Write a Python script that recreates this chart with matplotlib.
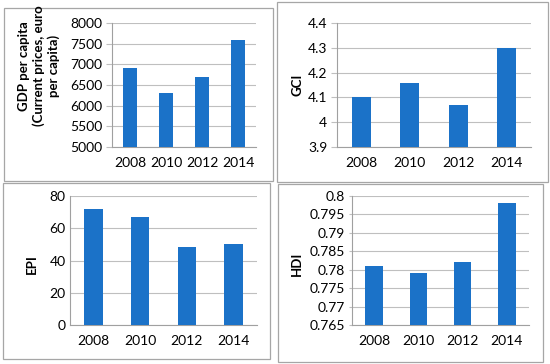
import matplotlib
matplotlib.use("Agg")
import matplotlib.pyplot as plt
from matplotlib.patches import Rectangle

years = ["2008", "2010", "2012", "2014"]
gdp = [6900, 6300, 6700, 7600]
gci = [4.10, 4.16, 4.07, 4.30]
epi = [72, 67, 48.5, 50.5]
hdi = [0.781, 0.779, 0.782, 0.798]

W, H = 550, 364
bar_color = "#1b72c8"
grid_color = "#bfbfbf"

plt.rcParams["font.family"] = ["Lato", "DejaVu Sans"]

fig = plt.figure(figsize=(W / 100, H / 100), dpi=100)

def px_rect(x0, y0, x1, y1):
    # pixel box (top-left origin) -> figure fraction [l, b, w, h]
    return [x0 / W, 1 - y1 / H, (x1 - x0) / W, (y1 - y0) / H]

# panel frames
frames = [(4, 8, 273, 181), (277, 2, 548, 182), (3, 183, 270, 359), (278, 184, 543, 362)]
for x0, y0, x1, y1 in frames:
    fig.patches.append(Rectangle((x0 / W, 1 - y1 / H), (x1 - x0) / W, (y1 - y0) / H,
                                 transform=fig.transFigure, fill=False,
                                 edgecolor="#a6a6a6", linewidth=0.9))

# (axes box, values, ylim, step, label, label pos px, label size, tick length, formatter)
panels = [
    (px_rect(112, 23, 256, 147), gdp, (5000, 8000), 500,
     "GDP per capita\n(Current prices, euro\nper capita)", (39, 66), 9.5, 4, lambda v: f"{v:.0f}"),
    (px_rect(337, 23, 531, 147), gci, (3.9, 4.4), 0.1, "GCI", (297, 85), 9.5, 4, lambda v: f"{v:g}"),
    (px_rect(70, 196, 257, 325), epi, (0, 80), 20, "EPI", (32, 264), 9.5, 0, lambda v: f"{v:.0f}"),
    (px_rect(352, 196, 529, 325), hdi, (0.765, 0.8), 0.005, "HDI", (297, 264), 9.5, 2, lambda v: f"{v:g}"),
]

for rect, vals, (lo, hi), step, label, (lx, ly), lsize, tlen, fmt in panels:
    ax = fig.add_axes(rect)
    ax.bar(years, vals, width=0.4, color=bar_color, zorder=3)
    ax.set_ylim(lo, hi)
    n = int(round((hi - lo) / step))
    ticks = [lo + i * step for i in range(n + 1)]
    ax.set_yticks(ticks)
    ax.set_yticklabels([fmt(round(t, 4)) for t in ticks])
    ax.set_xlim(-0.5, 3.5)
    ax.grid(axis="y", color=grid_color, linewidth=0.8, zorder=0)
    for s in ["top", "right"]:
        ax.spines[s].set_visible(False)
    for s in ["left", "bottom"]:
        ax.spines[s].set_color("#a0a0a0")
        ax.spines[s].set_linewidth(0.8)
    ax.tick_params(axis="y", length=tlen, width=0.8, color=grid_color,
                   labelsize=10, labelcolor="black", pad=3)
    ax.tick_params(axis="x", length=0, labelsize=10, labelcolor="black", pad=7)
    fig.text(lx / W, 1 - ly / H, label, rotation=90, ha="center", va="center",
             multialignment="center", fontsize=lsize, fontweight="bold", linespacing=1.25)

fig.savefig("out.png", dpi=100)
